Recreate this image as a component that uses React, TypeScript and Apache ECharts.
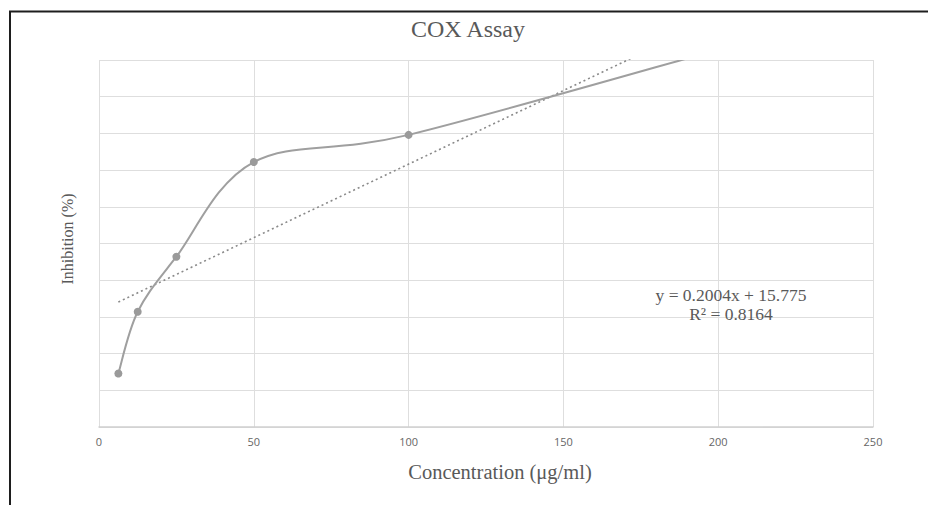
import React, { useEffect, useRef } from "react";
import * as echarts from "echarts";

const concentrations = [6.25, 12.5, 25, 50, 100, 200];
const inhibition = [7.3, 15.7, 23.2, 36.1, 39.8, 51.4];
const trendSlope = 0.2004;
const trendIntercept = 15.775;
const trendRange = [6.25, 200];
const xTicks = [0, 50, 100, 150, 200, 250];
const equationLines = ["y = 0.2004x + 15.775", "R² = 0.8164"];

export default function App() {
  const ref = useRef<HTMLDivElement>(null);
  useEffect(() => {
    if (!ref.current) return;
    const chart = echarts.init(ref.current, undefined, { renderer: "svg" });
    const textColor = "#595959";
    const serif = "'Liberation Serif', 'DejaVu Serif', serif";
    const points = concentrations.map((c, i) => [c, inhibition[i]]);

    const renderSegment = (params: any, api: any) => {
      const i = params.dataIndex;
      if (i >= points.length - 1) return null;
      const px = points.map((p) => api.coord(p));
      const p0 = px[Math.max(i - 1, 0)];
      const p1 = px[i];
      const p2 = px[i + 1];
      const p3 = px[Math.min(i + 2, px.length - 1)];
      const k = 1 / 6;
      return {
        type: "bezierCurve",
        shape: {
          x1: p1[0],
          y1: p1[1],
          cpx1: p1[0] + (p2[0] - p0[0]) * k,
          cpy1: p1[1] + (p2[1] - p0[1]) * k,
          cpx2: p2[0] - (p3[0] - p1[0]) * k,
          cpy2: p2[1] - (p3[1] - p1[1]) * k,
          x2: p2[0],
          y2: p2[1],
        },
        style: { stroke: "#9f9f9f", lineWidth: 2, fill: "none" },
      };
    };

    const option = {
      animation: false,
      backgroundColor: "#ffffff",
      grid: { left: 99, right: 55, top: 60, bottom: 78, containLabel: false },
      xAxis: {
        type: "value",
        min: xTicks[0],
        max: xTicks[xTicks.length - 1],
        interval: 50,
        axisLine: { show: true, lineStyle: { color: "#d0d0d0", width: 1.5 } },
        axisTick: { show: false },
        axisLabel: { margin: 9, fontFamily: "'Open Sans', 'Liberation Sans', sans-serif", fontSize: 11, color: "#666666" },
        splitLine: { show: true, lineStyle: { color: "#dedede", width: 1 } },
      },
      yAxis: {
        type: "value",
        min: 0,
        max: 50,
        interval: 5,
        axisLine: { show: false },
        axisTick: { show: false },
        axisLabel: { show: false },
        splitLine: { show: true, lineStyle: { color: "#dedede", width: 1 } },
      },
      graphic: [
        {
          type: "polyline",
          shape: { points: [[10, 505], [10, 11.5], [928, 11.5]] },
          style: { stroke: "#1e1e1e", lineWidth: 2, fill: "none" },
          z: 100,
        },
        {
          type: "text",
          x: 468,
          y: 29,
          style: {
            text: "COX Assay",
            fontFamily: serif,
            fontSize: 24,
            fill: textColor,
            align: "center",
            verticalAlign: "middle",
          },
        },
        {
          type: "text",
          x: 500,
          y: 472,
          style: {
            text: "Concentration (μg/ml)",
            fontFamily: serif,
            fontSize: 20.5,
            fill: textColor,
            align: "center",
            verticalAlign: "middle",
          },
        },
        {
          type: "text",
          x: 67,
          y: 239,
          rotation: Math.PI / 2,
          style: {
            text: "Inhibition (%)",
            fontFamily: serif,
            fontSize: 16,
            fill: textColor,
            align: "center",
            verticalAlign: "middle",
          },
        },
        {
          type: "text",
          x: 731,
          y: 295,
          style: {
            text: equationLines[0],
            fontFamily: serif,
            fontSize: 17.5,
            fill: textColor,
            align: "center",
            verticalAlign: "middle",
          },
          z: 50,
        },
        {
          type: "text",
          x: 731,
          y: 314,
          style: {
            text: equationLines[1],
            fontFamily: serif,
            fontSize: 17.5,
            fill: textColor,
            align: "center",
            verticalAlign: "middle",
          },
          z: 50,
        },
      ],
      series: [
        {
          type: "custom",
          data: points,
          clip: true,
          renderItem: renderSegment,
          z: 3,
        },
        {
          type: "scatter",
          data: points,
          clip: true,
          symbol: "circle",
          symbolSize: 8,
          itemStyle: { color: "#9a9a9a", opacity: 1 },
          z: 4,
        },
        {
          type: "line",
          data: trendRange.map((x) => [x, trendSlope * x + trendIntercept]),
          clip: true,
          symbol: "none",
          lineStyle: { color: "#8a8a8a", width: 1.6, type: [2, 3] },
          z: 2,
        },
      ],
    };
    chart.setOption(option as any);
    return () => chart.dispose();
  }, []);
  return (
    <div
      ref={ref}
      style={{ position: "fixed", left: 0, top: 0, width: 928, height: 505 }}
    />
  );
}
